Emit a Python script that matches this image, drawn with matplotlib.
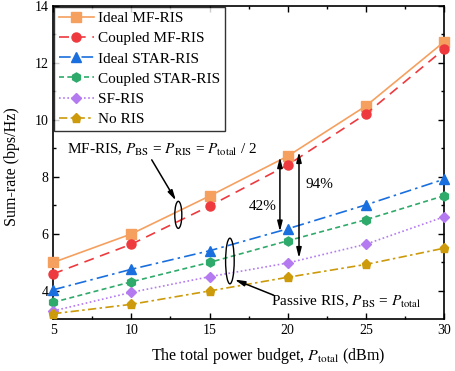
import numpy as np
import matplotlib
matplotlib.use('Agg')
from matplotlib import pyplot as plt
from matplotlib.patches import Ellipse

plt.rcParams['font.family'] = ['Liberation Serif', 'DejaVu Serif']
plt.rcParams['mathtext.fontset'] = 'stix'

# data
power = [5, 10, 15, 20, 25, 30]
ideal_mf = [5.0, 6.0, 7.33, 8.73, 10.49, 12.74]
coupled_mf = [4.6, 5.64, 6.98, 8.42, 10.21, 12.48]
ideal_star = [4.04, 4.76, 5.41, 6.18, 7.02, 7.92]
coupled_star = [3.6, 4.32, 5.0, 5.76, 6.5, 7.34]
sf_ris = [3.3, 3.95, 4.5, 4.98, 5.64, 6.6]
no_ris = [3.2, 3.53, 4.0, 4.48, 4.93, 5.5]

series = [
    ('Ideal MF-RIS', ideal_mf, '#F5A05F', '-', 's'),
    ('Coupled MF-RIS', coupled_mf, '#EE3A3E', (0, (6, 4)), 'o'),
    ('Ideal STAR-RIS', ideal_star, '#1A6FDF', (0, (7, 2.5, 1.5, 2.5)), '^'),
    ('Coupled STAR-RIS', coupled_star, '#2EAA6B', (0, (3, 2)), 'h'),
    ('SF-RIS', sf_ris, '#B47AF0', (0, (1, 1.5)), 'D'),
    ('No RIS', no_ris, '#CC9A0A', (0, (5, 2, 1.5, 2)), 'p'),
]

fig = plt.figure(figsize=(4.55, 3.71), dpi=100)
ax = fig.add_axes([0.117, 0.139, 0.859, 0.845])

for name, vals, col, ls, mk in series:
    ax.plot(power, vals, color=col, linestyle=ls, marker=mk, markersize=6.5 if mk != 'D' else 5.5,
            linewidth=1.2, label=name, clip_on=False, zorder=3)

ax.set_xlim(5, 30)
ax.set_ylim(3, 14)
ax.set_xticks([5, 10, 15, 20, 25, 30])
ax.set_yticks([4, 6, 8, 10, 12, 14])
ax.set_xticks(np.arange(7.5, 30, 5), minor=True)
ax.set_yticks(np.arange(5, 14, 2), minor=True)
ax.tick_params(which='both', direction='in', top=True, right=True, labelsize=10, width=1.0)
ax.tick_params(which='major', length=4)
ax.tick_params(which='minor', length=2.5)
for sp in ax.spines.values():
    sp.set_linewidth(1.2)

ax.set_xlabel(r'The total power budget, $P_{\rm total}$ (dBm)', fontsize=11.5)
ax.set_ylabel('Sum-rate (bps/Hz)', fontsize=11.5)
ax.xaxis.set_label_coords(0.55, -0.085)
ax.yaxis.set_label_coords(-0.085, 0.488)

leg = ax.legend(loc='upper left', fontsize=11, frameon=True, fancybox=False, edgecolor='black',
                handlelength=2.3, handletextpad=0.3, borderpad=0.3, labelspacing=0.43,
                borderaxespad=0.05)
leg.get_frame().set_linewidth(1.0)

# annotations
arrow = dict(arrowstyle='-|>,head_length=0.6,head_width=0.15', color='black', lw=1.1,
             shrinkA=0, shrinkB=0)
darrow = dict(arrowstyle='<|-|>,head_length=0.6,head_width=0.15', color='black', lw=1.1,
              shrinkA=0, shrinkB=0)

ax.add_patch(Ellipse((13.0, 6.67), 0.45, 0.95, fill=False, edgecolor='black', linewidth=1.0, zorder=4))
ax.add_patch(Ellipse((16.3, 5.05), 0.55, 1.6, fill=False, edgecolor='black', linewidth=1.0, zorder=4))

ax.text(5.85, 8.95, r'MF-RIS, $P_{\rm BS}$ = $P_{\rm RIS}$ = $P_{\rm total}$ / 2', fontsize=11,
        va='center', ha='left')
ax.annotate('', xy=(12.85, 7.17), xytext=(11.3, 8.6), arrowprops=arrow)

ax.text(18.95, 3.6, r'Passive RIS, $P_{\rm BS}$ = $P_{\rm total}$', fontsize=11, va='center', ha='left')
ax.annotate('', xy=(16.6, 4.4), xytext=(19.1, 3.85), arrowprops=arrow)

ax.annotate('', xy=(19.5, 8.7), xytext=(19.5, 6.08), arrowprops=darrow)
ax.text(18.4, 6.96, '42%', fontsize=11, va='center', ha='center')
ax.annotate('', xy=(20.72, 8.88), xytext=(20.72, 5.15), arrowprops=darrow)
ax.text(22.05, 7.72, '94%', fontsize=11, va='center', ha='center')

fig.savefig('out.png', dpi=100)
